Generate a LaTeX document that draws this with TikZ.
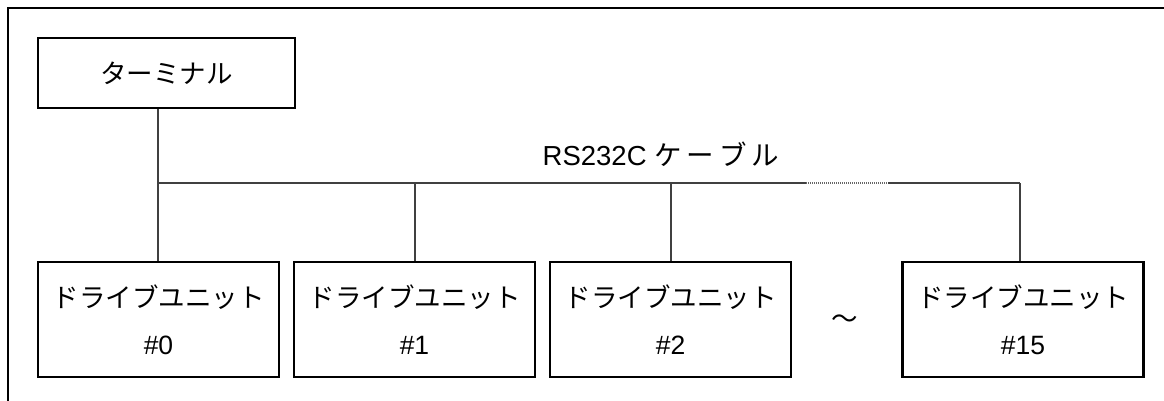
\documentclass[tikz,border=0pt]{standalone}
\usepackage{fontspec}
\setmainfont{Liberation Sans}
\newfontfamily\jp{Noto Sans CJK JP}
\begin{document}
\begin{tikzpicture}[x=1pt,y=-1pt,
  box/.style={draw=black,line width=2.4pt,rectangle,inner sep=0pt,align=center,
    font=\fontsize{26.5}{47}\selectfont},
  conn/.style={draw=black!75,line width=1.3pt},
  frameline/.style={draw=black,line width=2.6pt}]
\clip (0,0) rectangle (1164,401);
\fill[white] (0,0) rectangle (1164,401);
\draw[frameline] (8,430) -- (8,8) -- (1190,8);
\node[box,minimum width=257pt,minimum height=70pt] (term) at (166.5,73) {\jp ターミナル};
\node[box,minimum width=241pt,minimum height=115pt] (d0) at (158.5,319.5) {\jp ドライブユニット\\ \#0};
\node[box,minimum width=241pt,minimum height=115pt] (d1) at (414.5,319.5) {\jp ドライブユニット\\ \#1};
\node[box,minimum width=241pt,minimum height=115pt] (d2) at (670.5,319.5) {\jp ドライブユニット\\ \#2};
\node[box,minimum width=241pt,minimum height=115pt] (d15) at (1023,319.5) {\jp ドライブユニット\\ \#15};
\node[font=\fontsize{26.5}{30}\selectfont] (tilde) at (845,322) {\jp ～};
\node[font=\fontsize{27.5}{30}\selectfont] (cable) at (661,154) {RS232C {\jp ケ\hspace{5pt}ー\hspace{5pt}ブ\hspace{5pt}ル}};
\coordinate (b0) at (158,183);
\coordinate (b1) at (415,183);
\coordinate (b2) at (671,183);
\coordinate (ga) at (806,183);
\coordinate (gb) at (888,183);
\coordinate (b15) at (1020,183);
\draw[conn] (b0 |- term.south) -- (b0);
\draw[conn] (b0) -- (b1) -- (b2) -- (ga);
\draw[black!60,line width=1.3pt,dash pattern=on 1pt off 1pt] (ga) -- (gb);
\draw[conn] (gb) -- (b15);
\draw[conn] (b0) -- (b0 |- d0.north);
\draw[conn] (b1) -- (b1 |- d1.north);
\draw[conn] (b2) -- (b2 |- d2.north);
\draw[conn] (b15) -- (b15 |- d15.north);
\end{tikzpicture}
\end{document}
